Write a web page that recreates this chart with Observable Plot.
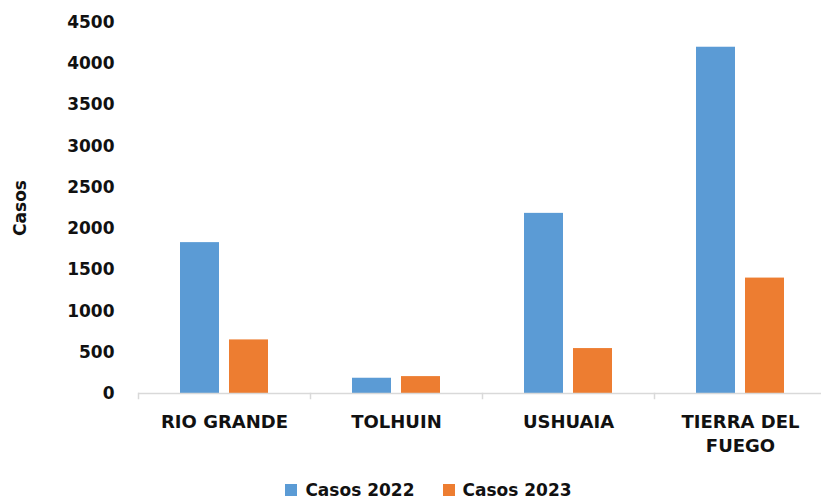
<!DOCTYPE html>
<html>
<head>
<meta charset="utf-8">
<script src="https://cdn.jsdelivr.net/npm/d3@7"></script>
<script src="https://cdn.jsdelivr.net/npm/@observablehq/plot@0.6"></script>
<style>
  body { margin: 0; background: #fff; font-family: "DejaVu Sans", sans-serif; overflow: hidden; }
  #chart svg { overflow: visible; }
  #legend { display: flex; justify-content: center; align-items: center; gap: 28px; font-weight: bold; font-size: 17px; color: #111; margin-left: 36px; margin-top: 10px; }
  #legend span.item { display: flex; align-items: center; gap: 8px; }
  #legend span.sw { width: 12px; height: 12px; display: inline-block; }
</style>
</head>
<body>
<div id="chart"></div>
<div id="legend"></div>
<script>
const categories = ["RIO GRANDE", "TOLHUIN", "USHUAIA", "TIERRA DEL FUEGO"];
const categoryLabels = ["RIO GRANDE", "TOLHUIN", "USHUAIA", "TIERRA DEL\nFUEGO"];
const series = ["Casos 2022", "Casos 2023"];
const casos2022 = [1830, 185, 2185, 4200];
const casos2023 = [650, 205, 545, 1400];
const yTicks = [0, 500, 1000, 1500, 2000, 2500, 3000, 3500, 4000, 4500];
const colors = ["#5b9bd5", "#ed7d31"];

const data = categories.flatMap((c, i) => [
  {cat: c, serie: series[0], value: casos2022[i]},
  {cat: c, serie: series[1], value: casos2023[i]}
]);

const H = 470, MT = 22, MB = 77;
const plot = Plot.plot({
  width: 821,
  height: H,
  marginLeft: 137,
  marginRight: -6,
  marginTop: MT,
  marginBottom: MB,
  style: {fontFamily: "DejaVu Sans, sans-serif", fontWeight: "bold", fontSize: "16px", color: "#111", overflow: "visible"},
  fx: {domain: categories, padding: 0, label: null},
  x: {domain: series, paddingInner: 0.204, paddingOuter: 0.847, axis: null},
  y: {domain: [0, 4500]},
  color: {domain: series, range: colors},
  marks: [
    Plot.barY(data, {fx: "cat", x: "serie", y: "value", fill: "serie"}),
    Plot.ruleY([0], {stroke: "#d9d9d9", strokeWidth: 1.5}),
    Plot.frame({anchor: "left", stroke: "#d9d9d9", strokeWidth: 1.5, insetTop: H - MT - MB, insetBottom: -5}),
    Plot.axisFx({
      anchor: "bottom",
      tickSize: 0, tickPadding: 17, label: null, fontSize: 18, lineHeight: 1.35,
      tickFormat: d => categoryLabels[categories.indexOf(d)]
    }),
    Plot.axisY({
      ticks: yTicks, tickSize: 0, tickPadding: 24, fontSize: 17,
      tickFormat: d => String(d),
      label: "Casos", labelAnchor: "center", labelOffset: 125, labelArrow: "none"
    })
  ]
});
document.getElementById("chart").appendChild(plot);

const legend = document.getElementById("legend");
series.forEach((s, i) => {
  const item = document.createElement("span");
  item.className = "item";
  const sw = document.createElement("span");
  sw.className = "sw";
  sw.style.background = colors[i];
  item.appendChild(sw);
  item.appendChild(document.createTextNode(s));
  legend.appendChild(item);
});
</script>
</body>
</html>
